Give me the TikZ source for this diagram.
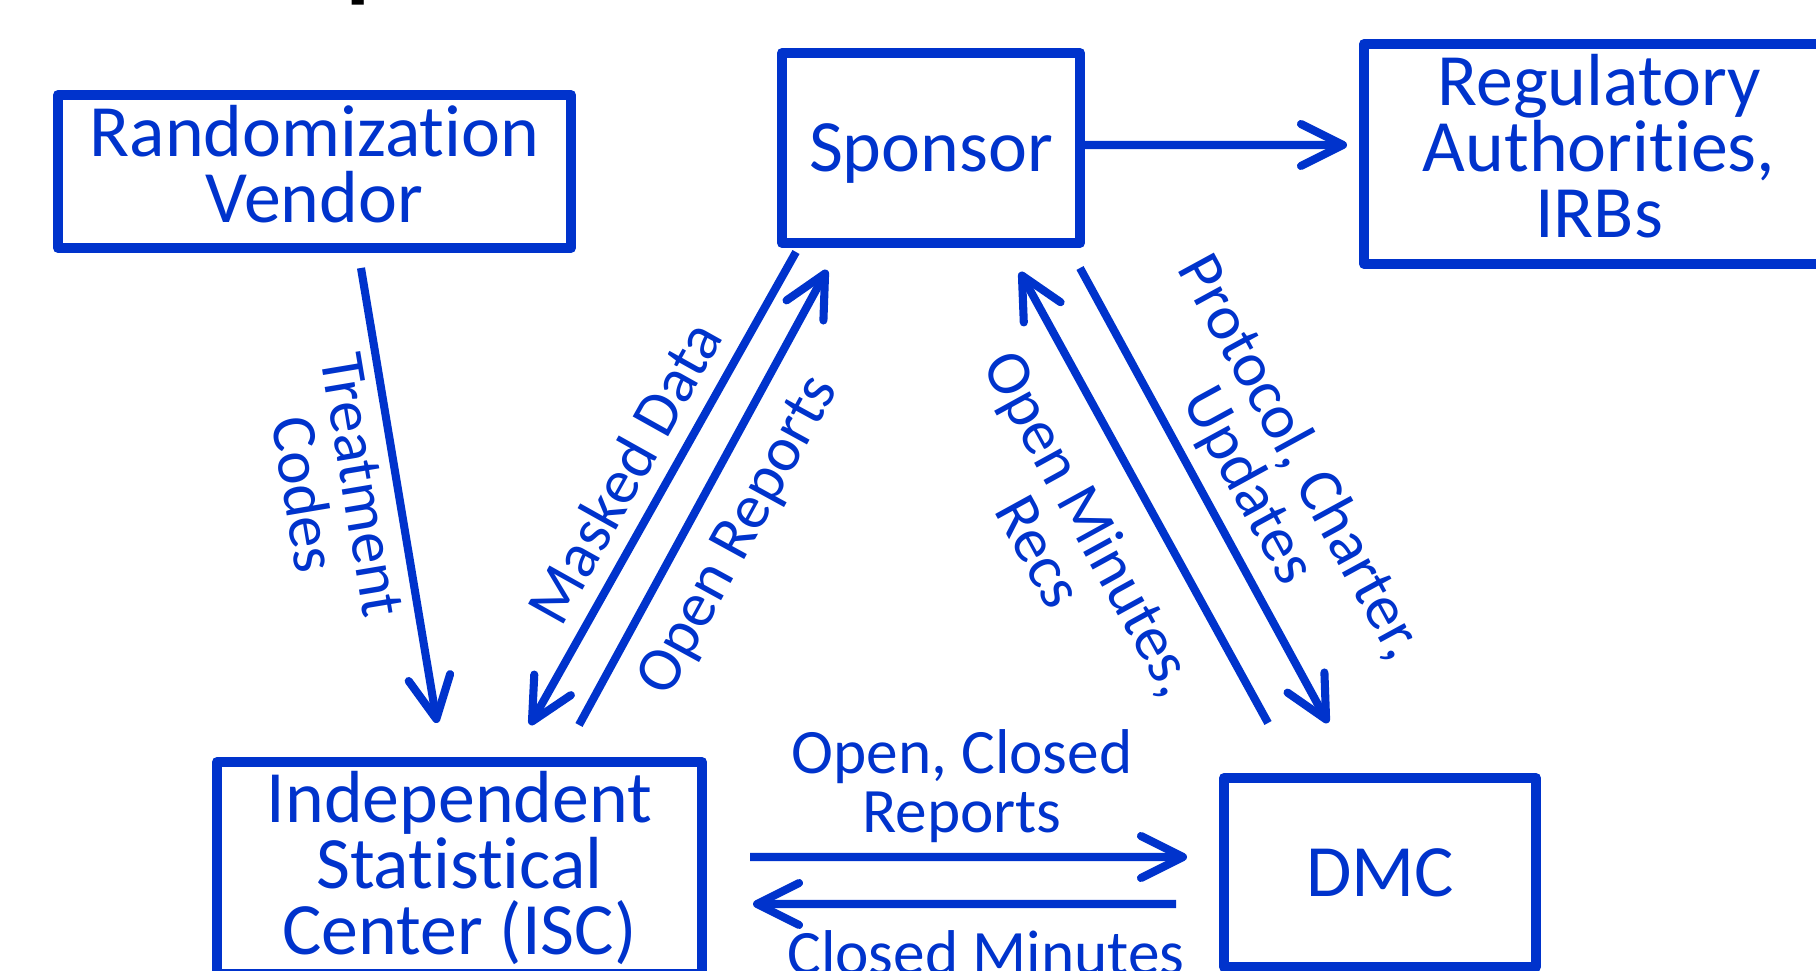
\documentclass[tikz,border=0pt]{standalone}
\usepackage{fontspec}
\setmainfont{Carlito}[Ligatures=NoCommon]
\usepackage{tikz}
\usetikzlibrary{arrows.meta}
\definecolor{dmcblue}{HTML}{0033CC}

\begin{document}
\begin{tikzpicture}
      \tikzstyle{box}=[draw=dmcblue,line width=2.85pt,line join=round,inner sep=0pt,align=center,text=dmcblue,font=\fontsize{21}{18.8}\selectfont]
      \tikzstyle{edge}=[-{Straight Barb[length=4.2mm,width=4.2mm,round]},draw=dmcblue,line width=2.3pt]
      \tikzstyle{lbl}=[text=dmcblue,align=center,inner sep=0pt,font=\fontsize{18}{16.8}\selectfont]
      \useasboundingbox (0,0) rectangle (18.16,-9.71);
      \node[anchor=base west,inner sep=0pt,text=black,font=\fontsize{40}{48}\selectfont] (ttl) at (3.42,0.17) {p};
      \node[box,text depth=1.6mm,minimum width=5.13cm,minimum height=1.53cm] (rv) at (3.145,-1.715) {Randomization\\Vendor};
      \node[box,text depth=0mm,minimum width=2.98cm,minimum height=1.90cm] (sponsor) at (9.31,-1.48) {Sponsor};
      \node[box,text depth=1.6mm,minimum width=4.70cm,minimum height=2.20cm] (reg) at (15.99,-1.54) {Regulatory\\Authorities,\\IRBs};
      \node[box,minimum width=4.85cm,minimum height=2.12cm] (isc) at (4.595,-8.68) {Independent\\Statistical\\Center (ISC)};
      \node[box,minimum width=3.12cm,minimum height=1.89cm] (dmc) at (13.80,-8.725) {DMC};
      \draw[edge] ([xshift=4.65mm,yshift=-1.5mm]rv.south) -- ([xshift=-2.25mm,yshift=3.4mm]isc.north);
      \draw[edge] ([yshift=0.3mm]sponsor.east) -- ([xshift=-1.2mm,yshift=0.9mm]reg.west);
      \draw[edge] ([xshift=1.9mm,yshift=-0.4mm]sponsor.south west) -- ([xshift=7.05mm,yshift=3.2mm]isc.north);
      \draw[edge] ([xshift=11.95mm,yshift=3.2mm]isc.north) -- ([xshift=-10.4mm,yshift=-2.2mm]sponsor.south);
      \draw[edge] ([xshift=-11.2mm,yshift=5mm]dmc.north) -- ([xshift=8.9mm,yshift=-2.4mm]sponsor.south);
      \draw[edge] ([xshift=-0.5mm,yshift=-2mm]sponsor.south east) -- ([xshift=-5.2mm,yshift=5mm]dmc.north);
      \draw[edge] ([xshift=4.3mm,yshift=1.1mm]isc.east) -- ([xshift=-3.2mm,yshift=1.55mm]dmc.west);
      \draw[edge] ([xshift=-4.3mm,yshift=-3.15mm]dmc.west) -- ([xshift=4.6mm,yshift=-3.6mm]isc.east);
      \node[lbl,rotate=-80.5] (treat) at (3.33,-4.90) {Treatment\\Codes};
      \node[lbl,rotate=60.8] (masked) at (6.24,-4.72) {Masked Data};
      \node[lbl,rotate=61.3] (openrep) at (7.40,-5.36) {Open Reports};
      \node[lbl,rotate=-61.2] (openmin) at (10.66,-5.37) {Open Minutes,\\Recs};
      \node[lbl,rotate=-61.4] (proto) at (12.73,-4.72) {Protocol, Charter,\\Updates};
      \node[lbl] (ocrep) at (9.62,-7.86) {Open, Closed\\Reports};
      \node[lbl,anchor=base] (clmin) at (9.86,-9.75) {Closed Minutes};
    \end{tikzpicture}
\end{document}
